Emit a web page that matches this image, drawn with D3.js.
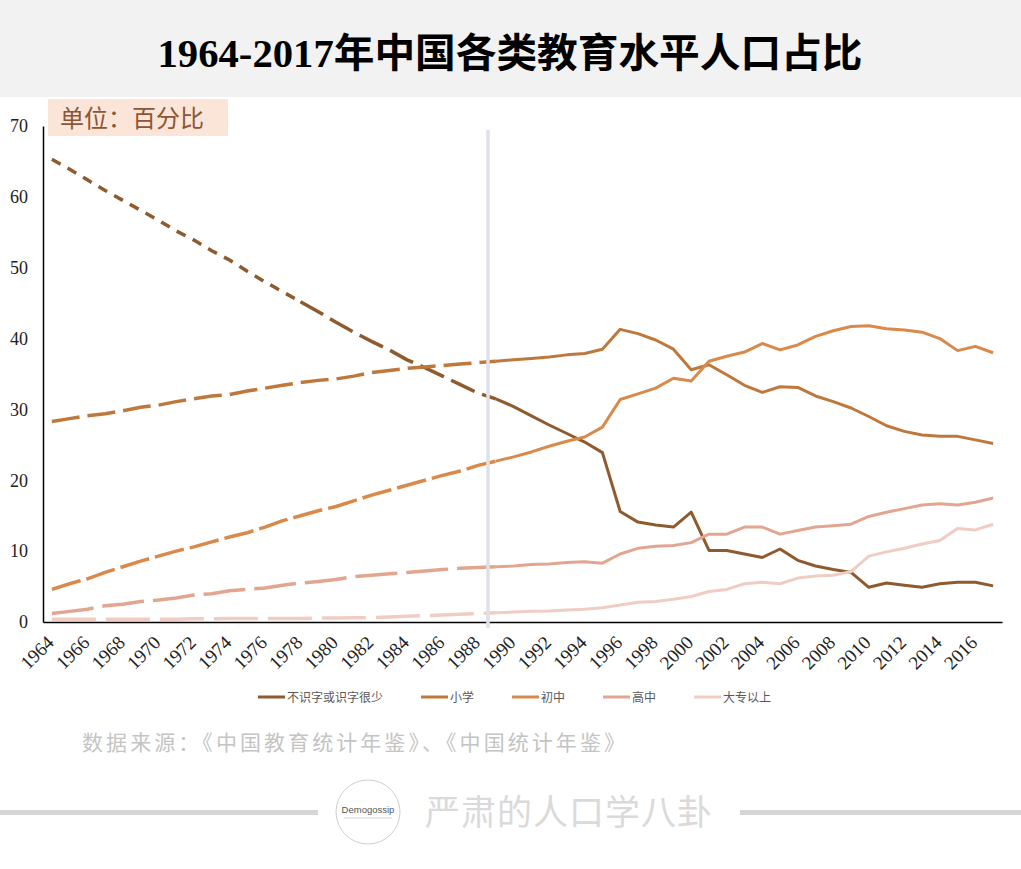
<!DOCTYPE html>
<html><head><meta charset="utf-8">
<script src="https://cdn.jsdelivr.net/npm/d3@7"></script>
<style>body{margin:0;background:#fff;} svg{display:block}</style>
</head><body><svg id="c" width="1021" height="869"></svg>
<script>
const years = [1964,1965,1966,1967,1968,1969,1970,1971,1972,1973,1974,1975,1976,1977,1978,1979,1980,1981,1982,1983,1984,1985,1986,1987,1988,1989,
  1990,1991,1992,1993,1994,1995,1996,1997,1998,1999,2000,2001,2002,2003,2004,2005,2006,2007,2008,2009,2010,2011,2012,2013,2014,2015,2016,2017];
const tickYears = [1964,1966,1968,1970,1972,1974,1976,1978,1980,1982,1984,1986,1988,1990,1992,1994,1996,1998,2000,2002,2004,2006,2008,2010,2012,2014,2016];
const yTicks = [0,10,20,30,40,50,60,70];
const seriesNames = ["不识字或识字很少","小学","初中","高中","大专以上"];
const dashedLastYear = 1989;

const illiterate = [65.3,63.9,62.4,60.9,59.5,58.1,56.7,55.2,53.9,52.4,51.1,49.5,48.0,46.6,45.2,43.8,42.3,40.9,39.6,38.4,37.0,35.9,34.7,33.5,32.3,31.5,
  30.4,29.1,27.8,26.6,25.4,23.9,15.6,14.1,13.7,13.4,15.5,10.1,10.1,9.6,9.1,10.3,8.7,7.9,7.4,7.0,4.9,5.5,5.2,4.9,5.4,5.6,5.6,5.1];
const primary = [28.3,28.7,29.1,29.4,29.8,30.3,30.6,31.1,31.5,31.9,32.1,32.6,33.0,33.4,33.8,34.1,34.3,34.7,35.2,35.5,35.8,36.0,36.2,36.4,36.6,36.8,
  37.0,37.2,37.4,37.7,37.9,38.5,41.3,40.7,39.8,38.5,35.6,36.3,34.9,33.4,32.4,33.2,33.1,31.9,31.1,30.2,29.0,27.7,26.9,26.4,26.2,26.2,25.7,25.2];
const juniorHigh = [4.6,5.4,6.1,7.0,7.8,8.6,9.3,10.0,10.6,11.3,12.0,12.6,13.4,14.3,15.0,15.7,16.3,17.1,17.9,18.6,19.3,20.0,20.7,21.3,22.1,22.7,
  23.3,24.0,24.8,25.5,26.1,27.5,31.4,32.2,33.0,34.4,34.0,36.8,37.5,38.1,39.3,38.4,39.1,40.3,41.1,41.7,41.8,41.4,41.2,40.9,40.0,38.3,38.9,38.0];
const seniorHigh = [1.2,1.5,1.8,2.3,2.5,2.9,3.1,3.4,3.8,4.0,4.4,4.6,4.8,5.2,5.5,5.7,6.0,6.4,6.6,6.8,7.0,7.2,7.4,7.6,7.7,7.8,
  7.9,8.1,8.2,8.4,8.5,8.3,9.6,10.4,10.7,10.8,11.2,12.4,12.4,13.4,13.4,12.4,12.9,13.4,13.6,13.8,14.9,15.5,16.0,16.5,16.7,16.5,16.9,17.5];
const college = [0.4,0.4,0.4,0.4,0.4,0.4,0.4,0.4,0.45,0.45,0.5,0.5,0.5,0.5,0.5,0.55,0.55,0.6,0.6,0.7,0.8,0.9,1.0,1.1,1.2,1.3,
  1.4,1.5,1.55,1.7,1.8,2.0,2.4,2.8,2.9,3.2,3.6,4.3,4.6,5.4,5.6,5.4,6.2,6.5,6.6,7.1,9.3,9.9,10.4,11.0,11.5,13.2,13.0,13.8];

const seriesValues = [illiterate, primary, juniorHigh, seniorHigh, college];
const colors = ["#8e5a2e","#bf783c","#d9894a","#e2a690","#efcdc3"];
const dashes = [["10,8","26,8"],["28,8"],["30,6"],["42,9"],["44,10"]];

const svg = d3.select("#c");
const serif = "'Liberation Serif','Times New Roman',serif";
const cjk = "'Noto Sans CJK SC','Noto Sans',sans-serif";

// header band
svg.append("rect").attr("x",0).attr("y",0).attr("width",1021).attr("height",97).attr("fill","#f2f2f2");
svg.append("text").attr("x",510).attr("y",67).attr("text-anchor","middle")
  .attr("font-family", "'Liberation Serif','Noto Sans CJK SC',serif").attr("font-weight","bold")
  .attr("font-size",40).attr("fill","#000")
  .attr("textLength",705).attr("lengthAdjust","spacingAndGlyphs")
  .text("1964-2017年中国各类教育水平人口占比");

// unit label
svg.append("rect").attr("x",48).attr("y",99).attr("width",180).attr("height",37).attr("fill","#fbe4d8");
svg.append("text").attr("x",60).attr("y",127).attr("font-family",cjk).attr("font-size",24)
  .attr("fill","#8a5636").text("单位：百分比");

const x = d3.scalePoint().domain(years).range([43,1002]).padding(0.5);
const y = d3.scaleLinear().domain([0,70]).range([622,126]);

// axes
const gy = svg.append("g").attr("transform","translate(43,0)")
  .call(d3.axisLeft(y).tickValues(yTicks).tickSize(0).tickSizeOuter(0).tickPadding(15));
gy.select(".domain").attr("stroke","#000").attr("stroke-width",1.5);
gy.selectAll("text").attr("font-family",serif).attr("font-size",18).attr("fill","#222");

const gx = svg.append("g").attr("transform","translate(0,622)")
  .call(d3.axisBottom(x).tickValues(tickYears).tickSize(0).tickSizeOuter(0));
gx.select(".domain").attr("stroke","#000").attr("stroke-width",1.5);
gx.selectAll("text").attr("font-family",serif).attr("font-size",19).attr("fill","#222")
  .attr("text-anchor","end").attr("y",0).attr("dy","0.35em")
  .attr("transform","translate(-2,17) rotate(-45)");

// lines
const line = d3.line().x(d => x(d.year)).y(d => y(d.v));
seriesValues.forEach((vals, i) => {
  const pts = years.map((yr, j) => ({year: yr, v: vals[j]}));
  const dashedPts = pts.filter(p => p.year <= dashedLastYear);
  const solidPts = pts.filter(p => p.year >= dashedLastYear);
  if (dashes[i].length === 2) {
    svg.append("path").datum(dashedPts.filter(p => p.year <= 1978)).attr("d", line)
      .attr("fill","none").attr("stroke",colors[i]).attr("stroke-width",3.5).attr("stroke-dasharray",dashes[i][0]);
    svg.append("path").datum(dashedPts.filter(p => p.year >= 1978)).attr("d", line)
      .attr("fill","none").attr("stroke",colors[i]).attr("stroke-width",3.5).attr("stroke-dasharray",dashes[i][1]);
  } else {
    svg.append("path").datum(dashedPts).attr("d", line)
      .attr("fill","none").attr("stroke",colors[i]).attr("stroke-width",3.5).attr("stroke-dasharray",dashes[i][0]);
  }
  svg.append("path").datum(solidPts).attr("d", line)
    .attr("fill","none").attr("stroke",colors[i]).attr("stroke-width",3).attr("stroke-linejoin","round");
});

// divider line
svg.append("line").attr("x1",488).attr("x2",488).attr("y1",130).attr("y2",628)
  .attr("stroke","#dfe1ea").attr("stroke-width",3.5);

// legend
let lx = 258;
const ly = 697;
seriesNames.forEach((name, i) => {
  svg.append("line").attr("x1",lx).attr("x2",lx+27).attr("y1",ly).attr("y2",ly)
    .attr("stroke",colors[i]).attr("stroke-width",3);
  const t = svg.append("text").attr("x",lx+29).attr("y",ly+4.5).attr("font-family",cjk)
    .attr("font-size",12).attr("fill","#595959").text(name);
  lx = lx + 29 + t.node().getComputedTextLength() + 38;
});

// source
svg.append("text").attr("x",82).attr("y",750).attr("font-family",cjk).attr("font-size",21)
  .attr("fill","#c4c4c4").attr("textLength",543).attr("lengthAdjust","spacing")
  .text("数据来源：《中国教育统计年鉴》、《中国统计年鉴》");

// footer
svg.append("rect").attr("x",0).attr("y",810).attr("width",318).attr("height",5).attr("fill","#d6d6d6");
svg.append("rect").attr("x",740).attr("y",810).attr("width",281).attr("height",5).attr("fill","#d6d6d6");
svg.append("circle").attr("cx",368).attr("cy",812).attr("r",32).attr("fill","#fff").attr("stroke","#cfcfcf").attr("stroke-width",1);
svg.append("text").attr("x",368).attr("y",813).attr("text-anchor","middle").attr("font-family","'Liberation Sans',Arial,sans-serif")
  .attr("font-size",9.5).attr("fill","#555").text("Demogossip");
svg.append("line").attr("x1",344).attr("x2",392).attr("y1",818).attr("y2",818).attr("stroke","#bbb").attr("stroke-width",0.6);
svg.append("text").attr("x",425).attr("y",825).attr("font-family",cjk).attr("font-size",35)
  .attr("fill","#dadada").attr("textLength",287).attr("lengthAdjust","spacing").text("严肃的人口学八卦");
</script></body></html>
